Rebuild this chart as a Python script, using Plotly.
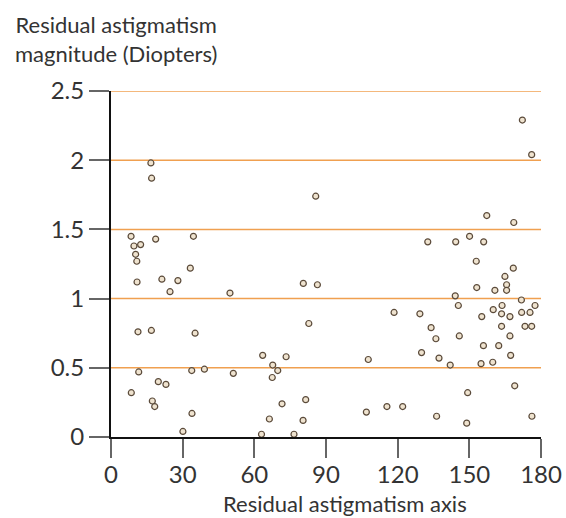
import plotly.graph_objects as go

# Residual astigmatism axis (degrees)
axis_deg = [
    16.7, 17.0, 8.4, 18.7, 34.5, 9.6, 12.4, 10.3, 10.8, 33.2,
    10.9, 21.3, 28.0, 24.7, 49.8, 11.3, 16.9, 35.2, 63.5, 11.6,
    33.8, 39.1, 51.2, 19.8, 23.0, 8.5, 17.3, 18.3, 33.9, 30.1,
    63.0, 80.5, 86.4, 85.7, 118.5, 82.8, 73.3, 107.7, 67.7, 69.8,
    67.5, 81.5, 71.6, 115.5, 122.1, 106.9, 66.3, 80.4, 76.6, 172.2,
    176.1, 157.3, 168.6, 150.1, 132.6, 144.3, 156.0, 152.9, 168.4, 164.9,
    165.6, 165.6, 153.1, 160.7, 144.1, 171.8, 145.4, 163.7, 177.5, 160.0,
    171.9, 175.4, 163.5, 129.3, 155.2, 167.0, 134.0, 163.5, 173.3, 176.1,
    136.0, 145.8, 167.0, 155.9, 162.3, 130.0, 137.3, 167.3, 142.0, 154.9,
    159.8, 149.3, 169.0, 136.3, 148.9, 176.2,
]
# Residual astigmatism magnitude (Diopters)
magnitude = [
    1.98, 1.87, 1.45, 1.43, 1.45, 1.38, 1.39, 1.32, 1.27, 1.22,
    1.12, 1.14, 1.13, 1.05, 1.04, 0.76, 0.77, 0.75, 0.59, 0.47,
    0.48, 0.49, 0.46, 0.40, 0.38, 0.32, 0.26, 0.22, 0.17, 0.04,
    0.02, 1.11, 1.10, 1.74, 0.90, 0.82, 0.58, 0.56, 0.52, 0.48,
    0.43, 0.27, 0.24, 0.22, 0.22, 0.18, 0.13, 0.12, 0.02, 2.29,
    2.04, 1.60, 1.55, 1.45, 1.41, 1.41, 1.41, 1.27, 1.22, 1.16,
    1.10, 1.06, 1.08, 1.06, 1.02, 0.99, 0.95, 0.95, 0.95, 0.92,
    0.90, 0.90, 0.89, 0.89, 0.87, 0.87, 0.79, 0.80, 0.80, 0.80,
    0.71, 0.73, 0.73, 0.66, 0.66, 0.61, 0.57, 0.59, 0.52, 0.53,
    0.54, 0.32, 0.37, 0.15, 0.10, 0.15,
]

x_ticks = [0, 30, 60, 90, 120, 150, 180]
y_ticks = [0, 0.5, 1, 1.5, 2, 2.5]
y_tick_text = ["0", "0.5", "1", "1.5", "2", "2.5"]
grid_levels = [0.5, 1, 1.5, 2, 2.5]

FONT = "Lato"
TXT = "#333333"

fig = go.Figure()
fig.add_trace(go.Scatter(
    x=axis_deg, y=magnitude, mode="markers", cliponaxis=False,
    marker=dict(size=6, color="#efe3cf", line=dict(color="#5a4a3a", width=1.2)),
    showlegend=False, hoverinfo="skip",
))

shapes = [
    dict(type="line", xref="x", yref="y", x0=0, x1=180, y0=g, y1=g,
         line=dict(color="#f0a050", width=1.5), layer="below")
    for g in grid_levels
]

fig.update_layout(
    width=566, height=518,
    margin=dict(l=111, r=25, t=91, b=81, autoexpand=False),
    paper_bgcolor="white", plot_bgcolor="white",
    font=dict(family=FONT, color=TXT),
    shapes=shapes,
    xaxis=dict(
        range=[0, 180], tickvals=x_ticks, ticks="outside", ticklen=19,
        tickcolor="#666666", tickwidth=1.5, showgrid=False, zeroline=False,
        showline=True, linecolor="#111111", linewidth=2, automargin=False,
        ticklabelstandoff=-4,
        tickfont=dict(size=24, family=FONT, color=TXT),
    ),
    yaxis=dict(
        range=[0, 2.5], tickvals=y_ticks, ticktext=y_tick_text, ticks="outside",
        ticklen=20, tickcolor="#666666", tickwidth=1.5,
        showgrid=False, zeroline=False, automargin=False,
        showline=True, linecolor="#111111", linewidth=2,
        tickfont=dict(size=24, family=FONT, color=TXT),
    ),
    annotations=[
        dict(text="Residual astigmatism<br>magnitude (Diopters)", xref="paper", yref="paper",
             x=0.012, y=1.065, xanchor="center", yanchor="bottom", showarrow=False,
             align="center", font=dict(size=22, family=FONT, color=TXT)),
        dict(text="Residual astigmatism axis", xref="paper", yref="paper",
             x=0.544, y=-0.146, xanchor="center", yanchor="top", showarrow=False,
             font=dict(size=22, family=FONT, color=TXT)),
    ],
)

fig.write_html("out.html")
